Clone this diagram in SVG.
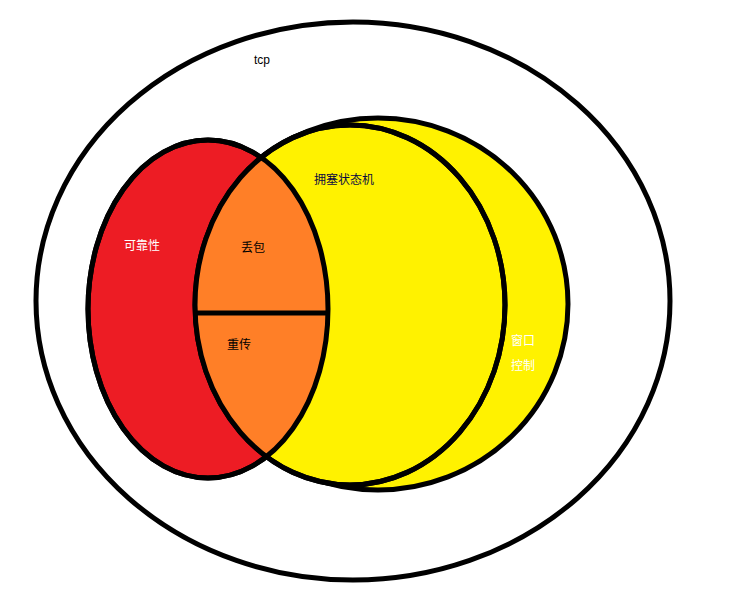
<svg xmlns="http://www.w3.org/2000/svg" width="751" height="609" viewBox="0 0 751 609">
<style>
.o{stroke:#000;stroke-width:5}
.t{font-family:"Liberation Sans","Noto Sans CJK SC",sans-serif;font-size:12px}
</style>
<defs>
<clipPath id="cy"><ellipse cx="350" cy="305" rx="155" ry="180"/></clipPath>
</defs>
<rect width="751" height="609" fill="#fff"/>
<g id="tcp">
<ellipse class="o" cx="353" cy="301" rx="317" ry="279" fill="#fff"/>
<text class="t" x="254" y="64" font-size="13" fill="#000">tcp</text>
</g>
<g id="window">
<ellipse class="o" cx="378" cy="304" rx="190" ry="186" fill="#fff200"/>
<text class="t" x="511" y="345" fill="#fff">窗口</text>
<text class="t" x="511" y="370" fill="#fff">控制</text>
</g>
<g id="reliability">
<ellipse class="o" cx="208" cy="309" rx="120" ry="169" fill="#ed1c24"/>
<text class="t" x="124" y="250" fill="#fff">可靠性</text>
</g>
<g id="congestion">
<ellipse class="o" cx="350" cy="305" rx="155" ry="180" fill="#fff200"/>
<text class="t" x="314" y="184" fill="#0a0a40">拥塞状态机</text>
</g>
<g id="overlap">
<ellipse cx="208" cy="309" rx="120" ry="169" fill="#ff7f27" clip-path="url(#cy)"/>
<ellipse class="o" cx="208" cy="309" rx="120" ry="169" fill="none"/>
<ellipse class="o" cx="350" cy="305" rx="155" ry="180" fill="none"/>
<line class="o" x1="195" y1="313" x2="329" y2="313"/>
<text class="t" x="241" y="252" fill="#000">丢包</text>
<text class="t" x="227" y="349" fill="#000">重传</text>
</g>
</svg>
